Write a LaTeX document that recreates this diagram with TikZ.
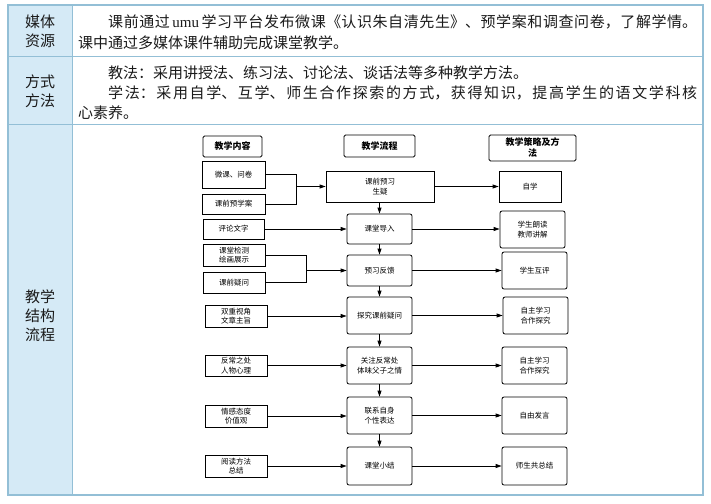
\documentclass[tikz,border=0pt]{standalone}
\usepackage{fontspec}
\setmainfont{Noto Sans CJK SC}
\newfontfamily\cjk{Noto Sans CJK SC}
\newfontfamily\latinserif{Liberation Serif}
\usetikzlibrary{arrows.meta}
\XeTeXlinebreaklocale "zh"
\XeTeXlinebreakskip=0pt plus 3pt
\definecolor{labfill}{HTML}{D5EAF6}
\definecolor{tabline}{HTML}{93BFD6}
\definecolor{txt}{HTML}{1A1A1A}
\newcommand{\fullline}[1]{\parindent=0pt\leftskip=0pt\rightskip=0pt\parfillskip=0pt #1\par}
\tikzset{
  body/.style={anchor=west,inner sep=0pt,font=\cjk\fontsize{15}{18}\selectfont,text=txt},
  jbody/.style={body,text width=619pt},
  lab/.style={align=center,inner sep=0pt,font=\cjk\fontsize{15}{19}\selectfont,text=txt},
  fbox/.style={draw=black,inner sep=0pt,align=center,font=\cjk\fontsize{7.5}{9.5}\selectfont},
  lbox/.style={fbox,line width=1pt},
  hbox/.style={fbox,line width=0.8pt,rounded corners=1.5pt,font=\cjk\bfseries\fontsize{9}{11}\selectfont},
  cbox/.style={fbox,line width=0.8pt,rounded corners=2pt},
  sbox/.style={fbox,line width=0.8pt},
  arr/.style={draw=black,line width=0.8pt,-{Triangle[length=6pt,width=4pt]}},
  ln/.style={draw=black,line width=0.8pt},
}
\begin{document}
\begin{tikzpicture}[x=1pt,y=-1pt]
\useasboundingbox (0,0) rectangle (711,503);
% table
\fill[labfill] (8,5) rectangle (72,495);
\draw[tabline,line width=0.8pt] (8,56) -- (703,56);
\draw[tabline,line width=0.8pt] (8,124) -- (703,124);
\draw[tabline,line width=1pt] (72,5) -- (72,495);
\draw[tabline,line width=1.2pt] (8,5) rectangle (703,495);
% labels
\node[lab] (l1) at (40,31) {媒体\\资源};
\node[lab] (l2) at (40,91) {方式\\方法};
\node[lab] (l3) at (40,316) {教学\\结构\\流程};
% body text
\node[jbody] (t1) at (78,22) {\fullline{\hspace*{30pt}课前通过\,{\latinserif umu}\,学习平台发布微课《认识朱自清先生》、预学案和调查问卷，了解学情。}};
\node[body] (t2) at (78,43) {课中通过多媒体课件辅助完成课堂教学。};
\node[body] (t3) at (78,73) {\hspace{30pt}教法：采用讲授法、练习法、讨论法、谈话法等多种教学方法。};
\node[jbody] (t4) at (78,93) {\fullline{\hspace*{30pt}学法：采用自学、互学、师生合作探索的方式，获得知识，提高学生的语文学科核}};
\node[body] (t5) at (78,113) {心素养。};
% headers
\node[hbox,minimum width=59pt,minimum height=21pt] (h1) at (232.5,146.5) {教学内容};
\node[hbox,minimum width=71pt,minimum height=22pt] (h2) at (379.5,146) {教学流程};
\node[hbox,minimum width=87pt,minimum height=26pt] (h3) at (532.5,148) {教学策略及方\\法};
% left boxes
\node[lbox,minimum width=63pt,minimum height=27pt] (wk) at (233.5,174.5) {微课、问卷};
\node[lbox,minimum width=63pt,minimum height=20pt] (yxa) at (233.5,204) {课前预学案};
\node[lbox,minimum width=61pt,minimum height=20pt] (plwz) at (233.5,229) {评论文字};
\node[lbox,minimum width=62pt,minimum height=22pt] (ktjc) at (234,255) {课堂检测\\绘画展示};
\node[lbox,minimum width=62pt,minimum height=21pt] (kqyw) at (234,282.5) {课前疑问};
\node[lbox,minimum width=62pt,minimum height=22pt] (scsj) at (236,316) {双重视角\\文章主旨};
\node[lbox,minimum width=62pt,minimum height=21pt] (fczc) at (236,365.5) {反常之处\\人物心理};
\node[lbox,minimum width=62pt,minimum height=22pt] (qgtd) at (236,416) {情感态度\\价值观};
\node[lbox,minimum width=62pt,minimum height=22pt] (ydff) at (236,466) {阅读方法\\总结};
% centre boxes
\node[sbox,minimum width=108pt,minimum height=31pt] (c1) at (380,186.5) {课前预习\\生疑};
\node[cbox,minimum width=65pt,minimum height=30pt] (c2) at (379.5,229) {课堂导入};
\node[cbox,minimum width=65pt,minimum height=31pt] (c3) at (379.5,270.5) {预习反馈};
\node[cbox,minimum width=65pt,minimum height=37pt] (c4) at (379.5,315.5) {探究课前疑问};
\node[cbox,minimum width=65pt,minimum height=37pt] (c5) at (379.5,365.5) {关注反常处\\体味父子之情};
\node[cbox,minimum width=65pt,minimum height=37pt] (c6) at (379.5,415.5) {联系自身\\个性表达};
\node[cbox,minimum width=65pt,minimum height=38pt] (c7) at (379.5,466) {课堂小结};
% right boxes
\node[sbox,minimum width=62pt,minimum height=31pt] (r1) at (530,186.5) {自学};
\node[cbox,minimum width=65pt,minimum height=37pt] (r2) at (532.5,229.5) {学生朗读\\教师讲解};
\node[cbox,minimum width=65pt,minimum height=37pt] (r3) at (534.5,270.5) {学生互评};
\node[cbox,minimum width=65pt,minimum height=37pt] (r4) at (535.5,315.5) {自主学习\\合作探究};
\node[cbox,minimum width=65pt,minimum height=37pt] (r5) at (534.5,365.5) {自主学习\\合作探究};
\node[cbox,minimum width=65pt,minimum height=37pt] (r6) at (534.5,415.5) {自由发言};
\node[cbox,minimum width=65pt,minimum height=38pt] (r7) at (534.5,466) {师生共总结};
% brackets
\coordinate (j1) at (296,186.5);
\coordinate (j2) at (306,270.5);
\draw[ln] (wk.east) -- (wk.east -| j1) -- (yxa.east -| j1) -- (yxa.east);
\draw[arr] (j1) -- (c1.west);
\draw[ln] (ktjc.east) -- (ktjc.east -| j2) -- (kqyw.east -| j2) -- (kqyw.east);
\draw[arr] (j2) -- (c3.west);
% left to centre
\draw[arr] (plwz.east) -- (plwz.east -| c2.west);
\draw[arr] (scsj.east) -- (scsj.east -| c4.west);
\draw[arr] (fczc.east) -- (fczc.east -| c5.west);
\draw[arr] (qgtd.east) -- (qgtd.east -| c6.west);
\draw[arr] (ydff.east) -- (ydff.east -| c7.west);
% centre to right
\draw[arr] (c1.east) -- (c1.east -| r1.west);
\draw[arr] (c2.east) -- (c2.east -| r2.west);
\draw[arr] (c3.east) -- (c3.east -| r3.west);
\draw[arr] (c4.east) -- (c4.east -| r4.west);
\draw[arr] (c5.east) -- (c5.east -| r5.west);
\draw[arr] (c6.east) -- (c6.east -| r6.west);
\draw[arr] (c7.east) -- (c7.east -| r7.west);
% vertical
\draw[arr] (c2.north |- c1.south) -- (c2.north);
\draw[arr] (c2.south) -- (c3.north);
\draw[arr] (c3.south) -- (c4.north);
\draw[arr] (c4.south) -- (c5.north);
\draw[arr] (c5.south) -- (c6.north);
\draw[arr] (c6.south) -- (c7.north);
\end{tikzpicture}
\end{document}
